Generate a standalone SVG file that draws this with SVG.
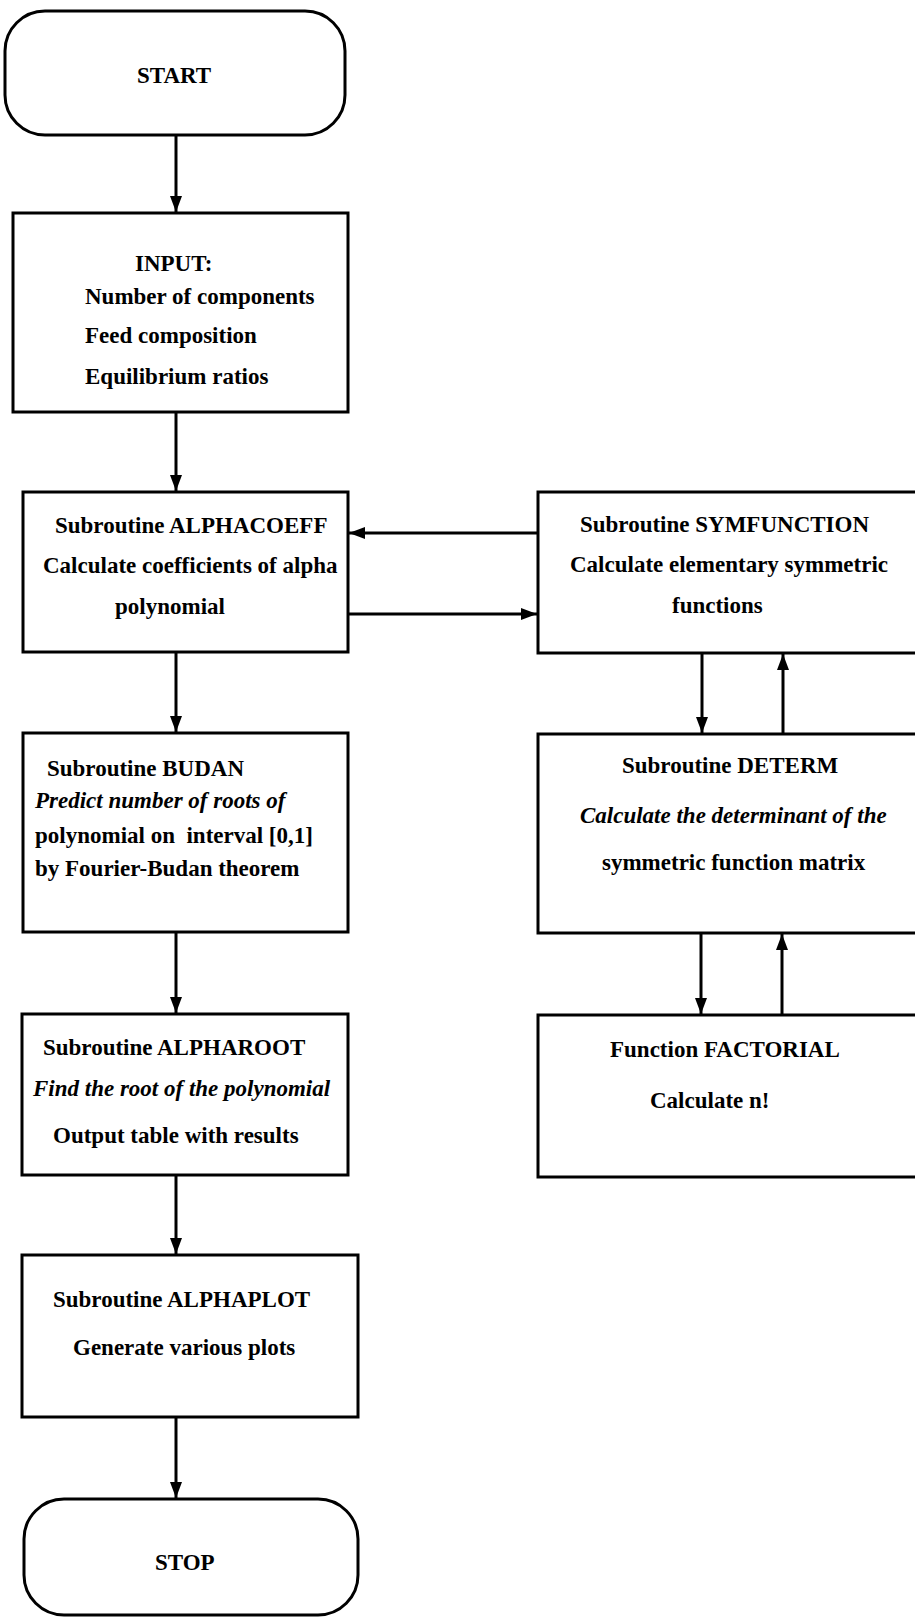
<svg xmlns="http://www.w3.org/2000/svg" width="915" height="1619" viewBox="0 0 915 1619">
<style>
.box{fill:#fff;stroke:#000;stroke-width:3}
.t{font-family:"Liberation Serif","Times New Roman",serif;font-size:23px;font-weight:bold;fill:#000}
.i{font-style:italic}
.c{fill:none;stroke:#000;stroke-width:3}
</style>
<defs>
<marker id="ah" markerUnits="userSpaceOnUse" markerWidth="18" markerHeight="14" refX="16" refY="6" orient="auto">
<path d="M0,0 L16,6 L0,12 z" fill="#000"/>
</marker>
</defs>
<rect width="915" height="1619" fill="#fff"/>
<g id="connectors">
<line class="c" x1="176" y1="135" x2="176" y2="212" marker-end="url(#ah)"/>
<line class="c" x1="176" y1="412" x2="176" y2="491" marker-end="url(#ah)"/>
<line class="c" x1="538" y1="533" x2="349" y2="533" marker-end="url(#ah)"/>
<line class="c" x1="348" y1="614" x2="537" y2="614" marker-end="url(#ah)"/>
<line class="c" x1="702" y1="653" x2="702" y2="733" marker-end="url(#ah)"/>
<line class="c" x1="783" y1="734" x2="783" y2="654" marker-end="url(#ah)"/>
<line class="c" x1="701" y1="933" x2="701" y2="1014" marker-end="url(#ah)"/>
<line class="c" x1="782" y1="1015" x2="782" y2="934" marker-end="url(#ah)"/>
<line class="c" x1="176" y1="652" x2="176" y2="732" marker-end="url(#ah)"/>
<line class="c" x1="176" y1="932" x2="176" y2="1013" marker-end="url(#ah)"/>
<line class="c" x1="176" y1="1175" x2="176" y2="1254" marker-end="url(#ah)"/>
<line class="c" x1="176" y1="1417" x2="176" y2="1498" marker-end="url(#ah)"/>
</g>
<g id="start">
<rect class="box" x="5" y="11" width="340" height="124" rx="40" ry="40"/>
<text class="t" x="137" y="83">START</text>
</g>
<g id="input">
<rect class="box" x="13" y="213" width="335" height="199"/>
<text class="t" x="135" y="271">INPUT:</text>
<text class="t" x="85" y="304">Number of components</text>
<text class="t" x="85" y="343">Feed composition</text>
<text class="t" x="85" y="384">Equilibrium ratios</text>
</g>
<g id="alphacoeff">
<rect class="box" x="23" y="492" width="325" height="160"/>
<text class="t" x="55" y="533">Subroutine ALPHACOEFF</text>
<text class="t" x="43" y="573">Calculate coefficients of alpha</text>
<text class="t" x="115" y="614">polynomial</text>
</g>
<g id="symfunction">
<rect class="box" x="538" y="492" width="390" height="161"/>
<text class="t" x="580" y="532">Subroutine SYMFUNCTION</text>
<text class="t" x="570" y="572">Calculate elementary symmetric</text>
<text class="t" x="672" y="613">functions</text>
</g>
<g id="budan">
<rect class="box" x="23" y="733" width="325" height="199"/>
<text class="t" x="47" y="776">Subroutine BUDAN</text>
<text class="t i" x="35" y="808">Predict number of roots of</text>
<text class="t" x="35" y="843" xml:space="preserve">polynomial on  interval [0,1]</text>
<text class="t" x="35" y="876">by Fourier-Budan theorem</text>
</g>
<g id="determ">
<rect class="box" x="538" y="734" width="390" height="199"/>
<text class="t" x="622" y="773">Subroutine DETERM</text>
<text class="t i" x="580" y="823">Calculate the determinant of the</text>
<text class="t" x="602" y="870">symmetric function matrix</text>
</g>
<g id="alpharoot">
<rect class="box" x="22" y="1014" width="326" height="161"/>
<text class="t" x="43" y="1055">Subroutine ALPHAROOT</text>
<text class="t i" x="33" y="1096">Find the root of the polynomial</text>
<text class="t" x="53" y="1143">Output table with results</text>
</g>
<g id="factorial">
<rect class="box" x="538" y="1015" width="390" height="162"/>
<text class="t" x="610" y="1057">Function FACTORIAL</text>
<text class="t" x="650" y="1108">Calculate n!</text>
</g>
<g id="alphaplot">
<rect class="box" x="22" y="1255" width="336" height="162"/>
<text class="t" x="53" y="1307">Subroutine ALPHAPLOT</text>
<text class="t" x="73" y="1355">Generate various plots</text>
</g>
<g id="stop">
<rect class="box" x="24" y="1499" width="334" height="116" rx="40" ry="40"/>
<text class="t" x="155" y="1570">STOP</text>
</g>
</svg>
